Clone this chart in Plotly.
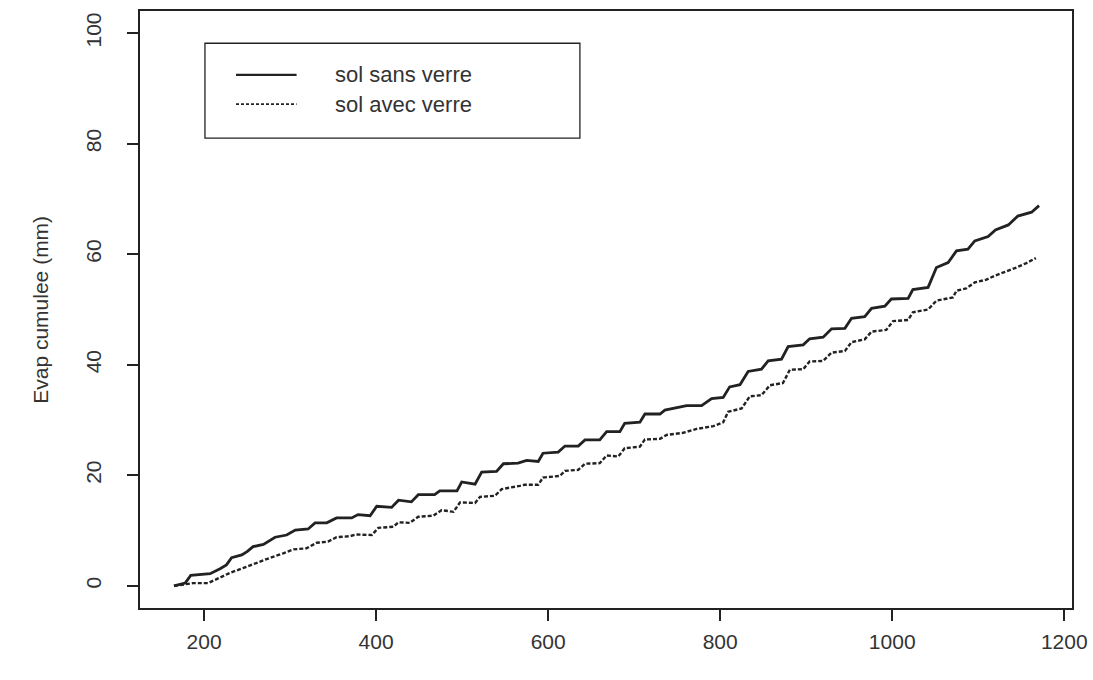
import plotly.graph_objects as go

# Time (h) and cumulative evaporation (mm)
sans_x = [165, 178, 184.5, 207, 218.6, 226, 232, 243.8, 250, 257, 269, 282.5, 296, 306, 321, 329,
          342.6, 354, 371.6, 379, 393, 400.7, 418, 426, 441, 449, 468, 474, 494, 499.5, 515, 522.7,
          540, 548, 565, 575, 588.5, 594, 611.7, 619.5, 635, 642.8, 660, 668, 683.4, 689, 706.7,
          712.5, 730, 735.7, 761, 778.4, 790, 803.5, 811, 823, 832.5, 848, 855.8, 871.3, 879, 896.5,
          904, 919.7, 929.5, 945, 952.7, 968, 976, 991.4, 999, 1018.5, 1024, 1041.7, 1051.4, 1065,
          1074.7, 1088, 1096, 1111.5, 1120, 1135, 1146, 1162, 1170.7]
sans_y = [0.0, 0.5, 1.9, 2.2, 3.1, 3.8, 5.1, 5.6, 6.2, 7.1, 7.5, 8.8, 9.2, 10.1, 10.3, 11.4,
          11.4, 12.3, 12.3, 12.9, 12.7, 14.4, 14.2, 15.5, 15.2, 16.5, 16.5, 17.2, 17.2, 18.8, 18.4, 20.6,
          20.7, 22.1, 22.2, 22.7, 22.5, 24.0, 24.2, 25.3, 25.3, 26.4, 26.4, 27.9, 27.9, 29.4, 29.6,
          31.1, 31.1, 31.8, 32.6, 32.6, 33.9, 34.1, 36.0, 36.4, 38.8, 39.2, 40.7, 41.0, 43.3, 43.6,
          44.7, 45.0, 46.5, 46.6, 48.4, 48.7, 50.2, 50.6, 51.9, 52.0, 53.6, 54.0, 57.6, 58.5,
          60.6, 60.9, 62.4, 63.2, 64.4, 65.3, 66.9, 67.6, 68.8]

avec_x = [165, 187, 204.6, 216, 230, 245, 261, 277, 292, 304, 319, 331, 344, 354, 369.7, 377, 395,
          402.6, 420, 426, 439, 449, 466.5, 476, 490, 497.5, 515, 520.7, 538, 546, 567, 573, 588.5,
          594, 613.7, 619.5, 635, 642.8, 660, 668, 681.5, 689, 706.7, 712.5, 730, 737.7, 757, 772.6,
          792, 803.5, 809.3, 824.9, 834.5, 848, 857.8, 873, 881, 896.5, 904, 919.7, 929.5, 945,
          952.7, 968, 976, 993, 1001, 1018.5, 1024, 1041.7, 1051.4, 1070.7, 1074.7, 1086, 1096,
          1109.6, 1119, 1134.6, 1144.5, 1156, 1167]
avec_y = [0.0, 0.5, 0.5, 1.3, 2.35, 3.2, 4.2, 5.1, 5.9, 6.6, 6.8, 7.8, 8.0, 8.8, 9.0, 9.3, 9.2,
          10.5, 10.7, 11.5, 11.4, 12.5, 12.7, 13.7, 13.4, 15.1, 15.0, 16.1, 16.3, 17.5, 18.1, 18.3, 18.3,
          19.6, 19.9, 20.8, 21.0, 22.1, 22.2, 23.6, 23.4, 24.9, 25.2, 26.5, 26.6, 27.3, 27.7, 28.4,
          28.9, 29.6, 31.5, 32.1, 34.3, 34.5, 36.3, 36.7, 39.1, 39.2, 40.6, 40.7, 42.2, 42.5,
          44.1, 44.6, 46.0, 46.3, 47.9, 48.1, 49.5, 50.0, 51.6, 52.2, 53.4, 53.8, 54.9,
          55.4, 56.1, 57.0, 57.6, 58.4, 59.3]

x_ticks = [200, 400, 600, 800, 1000, 1200]
y_ticks = [0, 20, 40, 60, 80, 100]
legend_labels = ["sol sans verre", "sol avec verre"]
y_title = "Evap cumulee (mm)"

INK = "#222222"
TXT = "#333333"
FONT = "Liberation Sans, Arial, Helvetica, sans-serif"
FS = 21
FS_LEG = 22

fig = go.Figure()
fig.add_trace(go.Scatter(x=sans_x, y=sans_y, mode="lines", name=legend_labels[0],
                         line=dict(color=INK, width=2.8), showlegend=False))
fig.add_trace(go.Scatter(x=avec_x, y=avec_y, mode="lines", name=legend_labels[1],
                         line=dict(color=INK, width=2.4, dash="4px,2px"), showlegend=False))

axis_common = dict(showgrid=False, zeroline=False, showline=True, linecolor=INK, linewidth=1.5,
                   mirror=True, ticks="outside", ticklen=11, tickwidth=1.5, tickcolor=INK,
                   automargin=False, tickfont=dict(family=FONT, size=FS, color=TXT))

fig.update_layout(
    width=1093, height=680,
    margin=dict(l=140, r=21, t=11, b=72),
    paper_bgcolor="white", plot_bgcolor="white",
    xaxis=dict(range=[125.5, 1209], tickvals=x_ticks, ticktext=[str(v) for v in x_ticks],
               ticklabelstandoff=3, **axis_common),
    yaxis=dict(range=[-4, 104], tickvals=y_ticks, ticktext=[str(v) for v in y_ticks],
               tickangle=-90, ticklabelstandoff=18, **axis_common),
)

# Legend box drawn in R style
fig.add_shape(type="rect", xref="paper", yref="paper", x0=0.0697, x1=0.472, y0=0.787, y1=0.946,
              line=dict(color=INK, width=1.3), fillcolor="white")
fig.add_shape(type="line", xref="paper", yref="paper", x0=0.103, x1=0.168, y0=0.893, y1=0.893,
              line=dict(color=INK, width=2.2))
fig.add_shape(type="line", xref="paper", yref="paper", x0=0.103, x1=0.168, y0=0.844, y1=0.844,
              line=dict(color=INK, width=1.6, dash="3px,2px"))
for label, yy in zip(legend_labels, [0.893, 0.844]):
    fig.add_annotation(xref="paper", yref="paper", x=0.207, y=yy, text=label, showarrow=False,
                       xanchor="left", yanchor="middle",
                       font=dict(family=FONT, size=FS_LEG, color=TXT))

fig.add_annotation(xref="paper", yref="paper", x=-0.107, y=0.5, text=y_title, showarrow=False,
                   textangle=-90, xanchor="center", yanchor="middle",
                   font=dict(family=FONT, size=FS, color=TXT))

fig.write_html("out.html", config={"displayModeBar": False},
               post_script="document.body.style.margin='0';")
